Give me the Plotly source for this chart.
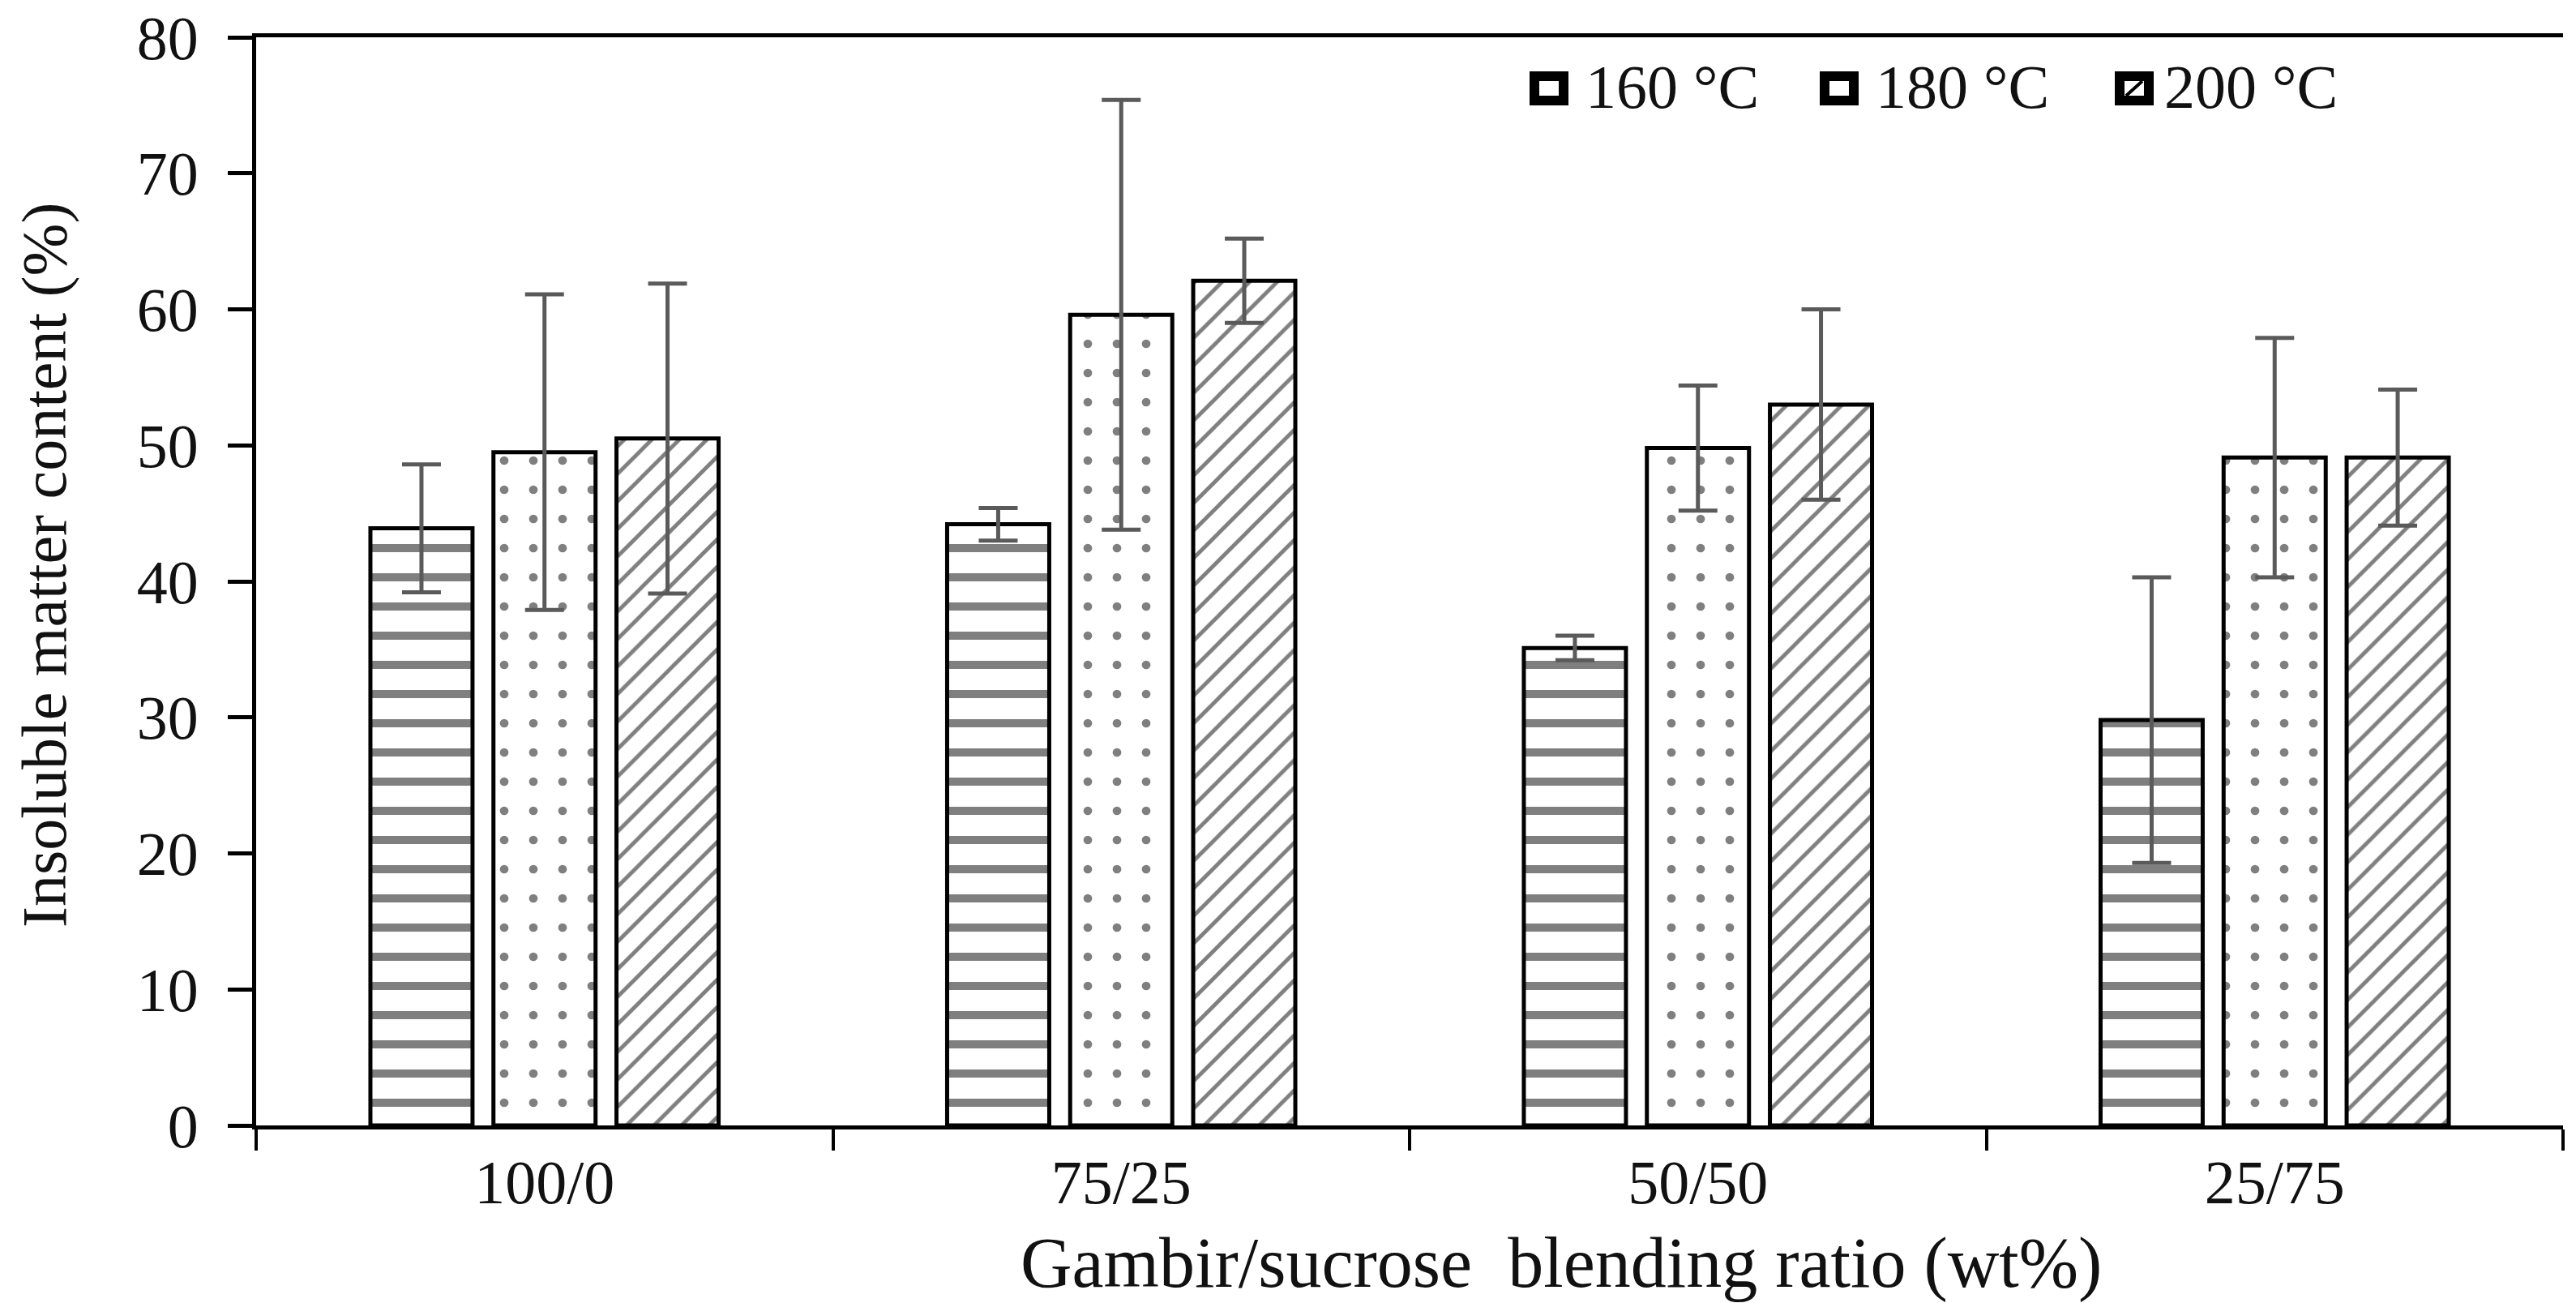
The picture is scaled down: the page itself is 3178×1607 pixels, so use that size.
import plotly.graph_objects as go

# ---- data ----
categories = ["100/0", "75/25", "50/50", "25/75"]
series_names = ["160 °C", "180 °C", "200 °C"]
values_160 = [43.9, 44.2, 35.1, 29.8]
errors_160 = [4.7, 1.2, 0.9, 10.5]
values_180 = [49.5, 59.6, 49.8, 49.1]
errors_180 = [11.6, 15.8, 4.6, 8.8]
values_200 = [50.5, 62.1, 53.0, 49.1]
errors_200 = [11.4, 3.1, 7.0, 5.0]
y_ticks = [0, 10, 20, 30, 40, 50, 60, 70, 80]
x_title = "Gambir/sucrose\u00a0 blending ratio (wt%)"
y_title = "Insoluble matter content (%)"

W, H = 3178, 1607
L, R, T, B = 308, 24, 38, 227
FONT = "Liberation Serif, Times New Roman, serif"
TXT = "#111111"

patterns = [
    dict(shape="-", size=36, solidity=0.28, fgcolor="black", bgcolor="white"),
    dict(shape=".", size=36, solidity=0.07, fgcolor="black", bgcolor="white"),
    dict(shape="/", size=24, solidity=0.2, fgcolor="black", bgcolor="white"),
]
all_vals = [values_160, values_180, values_200]
all_errs = [errors_160, errors_180, errors_200]

fig = go.Figure()
for name, vals, errs, pat in zip(series_names, all_vals, all_errs, patterns):
    fig.add_trace(go.Bar(
        name=name, x=categories, y=vals,
        marker=dict(color="white", pattern=pat, line=dict(color="black", width=5)),
        error_y=dict(type="data", array=errs, visible=True,
                     color="#5a5a5a", thickness=5, width=24),
        showlegend=False,
    ))

# ---- helpers: pixel -> paper ----
pw, ph = W - L - R, H - T - B
def px(x):
    return (x - L) / pw
def py(y):
    return 1 - (y - T) / ph

# ---- custom legend (sizes match the reference) ----
leg_boxes = [(1879, 1927), (2237, 2285), (2601, 2649)]
leg_text_x = [1946, 2304, 2660]
for i, (name, (x0, x1), tx) in enumerate(zip(series_names, leg_boxes, leg_text_x)):
    fig.add_shape(type="rect", xref="paper", yref="paper",
                  x0=px(x0 + 6), x1=px(x1 - 6), y0=py(116), y1=py(86),
                  line=dict(color="black", width=12), fillcolor="white")
    if i == 2:
        fig.add_shape(type="line", xref="paper", yref="paper",
                      x0=px(x0 + 14), x1=px(x1 - 14), y0=py(110), y1=py(92),
                      line=dict(color="black", width=4))
    fig.add_annotation(text=name, xref="paper", yref="paper",
                       x=px(tx), y=py(99), xanchor="left", yanchor="middle",
                       showarrow=False, font=dict(family=FONT, size=76, color=TXT))

# ---- axis titles (placed as in the reference) ----
fig.add_annotation(text=x_title, xref="paper", yref="paper",
                   x=px(1918), y=py(1550), xanchor="center", yanchor="middle",
                   showarrow=False, font=dict(family=FONT, size=88, color=TXT))
fig.add_annotation(text=y_title, xref="paper", yref="paper",
                   x=px(46), y=py(689), xanchor="center", yanchor="middle",
                   textangle=-90, showarrow=False,
                   font=dict(family=FONT, size=78, color=TXT))

fig.update_layout(
    width=W, height=H,
    margin=dict(l=L, r=R, t=T, b=B, autoexpand=False),
    paper_bgcolor="white", plot_bgcolor="white",
    barmode="group", bargap=0.36, bargroupgap=0.17,
    font=dict(family=FONT, size=76, color=TXT),
)
fig.update_xaxes(
    type="category", range=[-0.5, 3.5],
    showline=True, linecolor="black", linewidth=5, mirror=True,
    ticks="outside", tickson="boundaries", ticklen=26, tickwidth=4, tickcolor="black",
    ticklabelstandoff=0, ticklabeloverflow="allow",
    tickfont=dict(family=FONT, size=76, color=TXT),
    showgrid=False, zeroline=False, automargin=False,
)
fig.update_yaxes(
    range=[0, 80], tickvals=y_ticks,
    showline=True, linecolor="black", linewidth=5, mirror=False,
    ticks="outside", ticklen=30, tickwidth=5, tickcolor="black",
    ticklabelstandoff=21, ticklabeloverflow="allow",
    tickfont=dict(family=FONT, size=76, color=TXT),
    showgrid=False, zeroline=False, automargin=False,
)

fig.write_html("out.html")
